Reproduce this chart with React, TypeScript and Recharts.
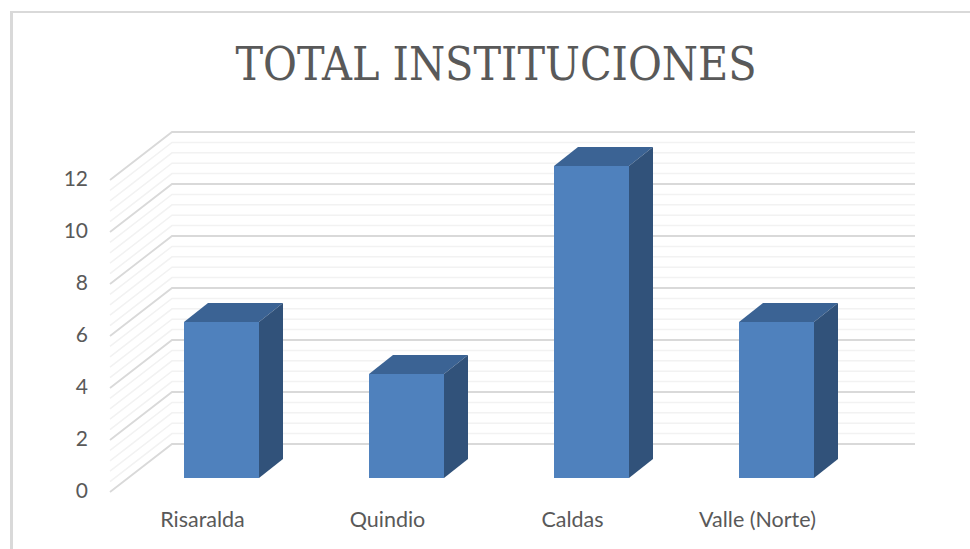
import { BarChart, Bar, XAxis, YAxis, CartesianGrid } from "recharts";

const regions = ["Risaralda", "Quindio", "Caldas", "Valle (Norte)"];
const totals = [6, 4, 12, 6];
const yTicks = [0, 2, 4, 6, 8, 10, 12];
const gridValues = [
  0, 0.4, 0.8, 1.2, 1.6, 2, 2.4, 2.8, 3.2, 3.6, 4, 4.4, 4.8, 5.2, 5.6, 6, 6.4, 6.8, 7.2, 7.6, 8, 8.4, 8.8, 9.2,
  9.6, 10, 10.4, 10.8, 11.2, 11.6, 12,
];

const chartData = regions.map((region, i) => ({ region, total: totals[i] }));

// the walls sit behind the bar plane, so every grid line is shifted back
function wallLine(props: any) {
  const { x1, x2, y1, index } = props;
  const major = index % 5 === 0;
  const color = major ? "#d9d9d9" : "#f2f2f2";
  return (
    <g key={index}>
      <polyline
        points={`${x1 - 19},${y1 + 14} ${x1 + 43},${y1 - 34} ${x2 + 46},${y1 - 34}`}
        fill="none"
        stroke={color}
        strokeWidth={major ? 1.8 : 1.5}
      />
    </g>
  );
}

function Box3D(props: any) {
  const { x, y, width, height } = props;
  const dx = 24;
  const dy = 19;
  const r = x + width;
  const b = y + height;
  return (
    <g>
      <polygon points={`${x},${y} ${x + dx},${y - dy} ${r + dx},${y - dy} ${r},${y}`} fill="#3b6394" />
      <polygon points={`${r},${y} ${r + dx},${y - dy} ${r + dx},${b - dy} ${r},${b}`} fill="#31527a" />
      <rect x={x} y={y} width={width} height={height} fill="#4f81bd" />
    </g>
  );
}

export default function App() {
  return (
    <div style={{ position: "absolute", left: 0, top: 0, width: 970, height: 549, background: "#fff", overflow: "hidden" }}>
      <div
        style={{
          position: "absolute",
          left: 10,
          top: 11,
          width: 970,
          height: 549,
          borderTop: "2px solid #d9d9d9",
          borderLeft: "3px solid #d9d9d9",
        }}
      />
      <div
        style={{
          position: "absolute",
          left: 0,
          top: 34,
          width: 992,
          textAlign: "center",
          fontFamily: "'DejaVu Serif Condensed', 'DejaVu Serif', serif",
          fontStretch: "condensed",
          fontSize: 46,
          lineHeight: "60px",
          color: "#595959",
        }}
      >
        TOTAL INSTITUCIONES
      </div>
      <div style={{ position: "absolute", left: 0, top: 0 }}>
        <BarChart width={970} height={549} data={chartData} margin={{ top: 166, right: 101, bottom: 0, left: 0 }}>
          <CartesianGrid vertical={false} horizontal={wallLine} horizontalValues={gridValues} />
          <XAxis
            dataKey="region"
            axisLine={false}
            tickLine={false}
            interval={0}
            tick={{ fontFamily: "Lato, sans-serif", fontSize: 21.5, fill: "#595959", dx: -19 }}
            tickMargin={28}
            height={71}
          />
          <YAxis
            domain={[0, 12]}
            ticks={yTicks}
            interval={0}
            axisLine={false}
            tickLine={false}
            width={129}
            tick={{ fontFamily: "Lato, sans-serif", fontSize: 21, fill: "#595959", dy: 13, dx: -33 }}
          />
          <Bar dataKey="total" barSize={75} shape={Box3D} isAnimationActive={false} />
        </BarChart>
      </div>
    </div>
  );
}
